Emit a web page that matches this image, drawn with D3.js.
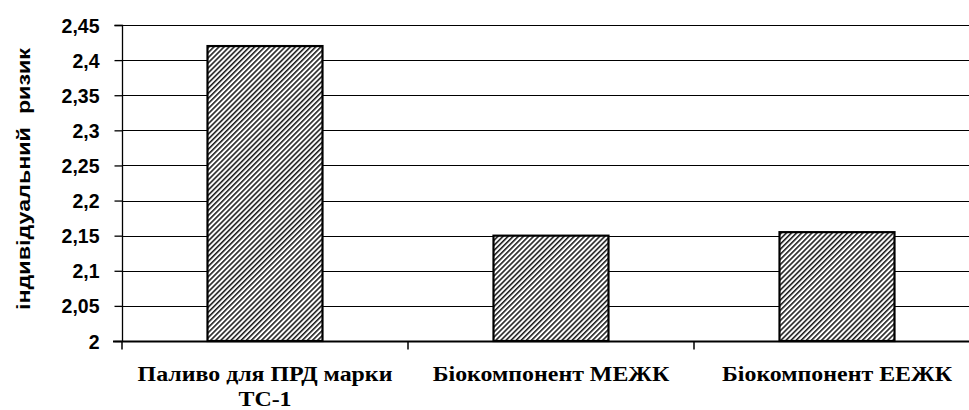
<!DOCTYPE html>
<html><head><meta charset="utf-8">
<script src="https://cdn.jsdelivr.net/npm/d3@7"></script>
<style>body{margin:0;background:#fff;} svg{display:block;}</style>
</head><body>
<svg id="c" width="969" height="410"></svg>
<script>
const categories = ["Паливо для ПРД марки ТС-1", "Біокомпонент МЕЖК", "Біокомпонент ЕЕЖК"];
const values = [2.42, 2.15, 2.155];
const yTicks = [2, 2.05, 2.1, 2.15, 2.2, 2.25, 2.3, 2.35, 2.4, 2.45];
const yLabel = "індивідуальний  ризик";
const labelLines = [["Паливо для ПРД марки", "ТС-1"], ["Біокомпонент МЕЖК"], ["Біокомпонент ЕЕЖК"]];

const serif = "'Liberation Serif', 'Times New Roman', 'DejaVu Serif', serif";
const sans = "'Liberation Sans', Arial, sans-serif";

const svg = d3.select("#c");
const m = {left: 122, top: 25, right: 980, bottom: 341};
const x = d3.scaleBand().domain(categories).range([m.left, m.right]).paddingInner(0).paddingOuter(0);
const y = d3.scaleLinear().domain([2, 2.45]).range([m.bottom, m.top]);

const defs = svg.append("defs");
const pat = defs.append("pattern").attr("id","hatch").attr("patternUnits","userSpaceOnUse")
  .attr("width",3.6).attr("height",3.6).attr("patternTransform","rotate(45)");
pat.append("rect").attr("width",3.6).attr("height",3.6).attr("fill","#fff");
pat.append("line").attr("x1",0.8).attr("y1",0).attr("x2",0.8).attr("y2",3.6).attr("stroke","#000").attr("stroke-width",1.4);

// gridlines
svg.append("g").selectAll("line").data(yTicks.slice(1)).join("line")
  .attr("x1", m.left).attr("x2", m.right)
  .attr("y1", d => Math.round(y(d)) + 0.5).attr("y2", d => Math.round(y(d)) + 0.5)
  .attr("stroke", "#000").attr("stroke-width", 1);

// bars
const bw = 115;
svg.append("g").selectAll("rect").data(categories).join("rect")
  .attr("x", d => x(d) + x.bandwidth()/2 - bw/2)
  .attr("width", bw)
  .attr("y", (d,i) => y(values[i]))
  .attr("height", (d,i) => y(2) - y(values[i]))
  .attr("fill", "url(#hatch)").attr("stroke", "#000").attr("stroke-width", 2.2);

// y axis
const yAxis = d3.axisLeft(y).tickValues(yTicks).tickSize(8).tickPadding(15)
  .tickFormat(d => String(+d.toFixed(2)).replace(".", ","));
const gy = svg.append("g").attr("transform", `translate(${m.left + 0.5},0)`).call(yAxis);
gy.select(".domain").attr("stroke","#000").attr("stroke-width",1.3).attr("d", `M-8,${m.top+0.5}H0V${m.bottom}`);
gy.selectAll(".tick line").attr("stroke","#000").attr("stroke-width",1.3);
gy.selectAll("text").attr("font-family", sans).attr("font-size",19.5)
  .attr("font-weight","bold").attr("fill","#000").attr("dy","0.36em");

// x axis
const gx = svg.append("g").attr("transform", `translate(0,${m.bottom + 0.5})`);
gx.append("line").attr("x1", m.left - 9).attr("x2", m.right).attr("stroke","#000").attr("stroke-width",2);
gx.selectAll("line.t").data(categories).join("line").attr("class","t")
  .attr("x1", d => x(d)).attr("x2", d => x(d)).attr("y1", 0).attr("y2", 8)
  .attr("stroke","#000").attr("stroke-width",1.5);

const catTexts = [];
categories.forEach((c, i) => {
  labelLines[i].forEach((ln, j) => {
    const cx = x(c) + x.bandwidth()/2;
    const t = gx.append("text").attr("text-anchor","middle")
      .attr("font-family", serif).attr("font-size",21).attr("font-weight","bold").attr("fill","#000")
      .attr("x", cx).attr("y", 40 + j*25).text(ln);
    catTexts.push({t, cx});
  });
});
// stretch horizontally to match the wide, heavy look of the original
const ref = catTexts[0].t.node().getComputedTextLength();
const sx = 255 / ref;
catTexts.forEach(({t, cx}) => t.attr("transform", `translate(${cx},0) scale(${sx},1) translate(${-cx},0)`));

// y label
const yl = svg.append("text").attr("transform", "translate(30,179) rotate(-90)")
  .attr("text-anchor","middle").attr("font-family", sans)
  .attr("font-size",19).attr("font-weight","bold").attr("fill","#000")
  .style("white-space","pre").text(yLabel);
yl.attr("textLength", 262).attr("lengthAdjust","spacingAndGlyphs");
</script>
</body></html>
